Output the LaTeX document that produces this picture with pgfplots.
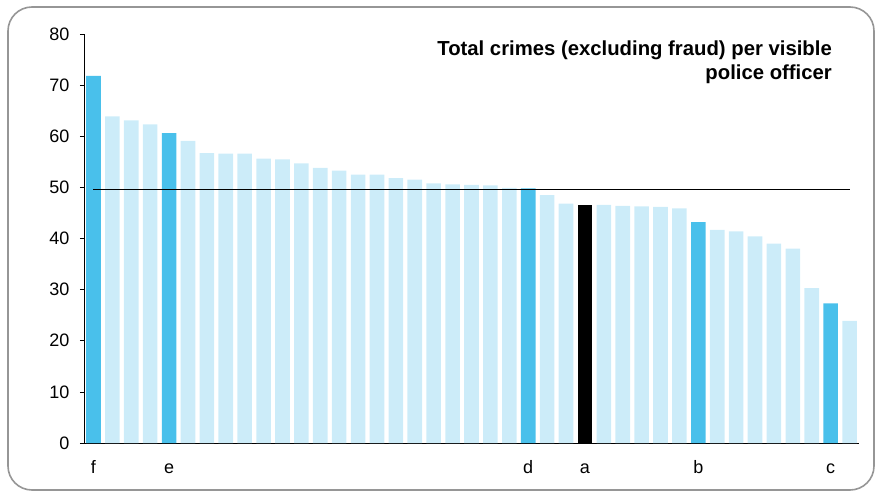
\documentclass[border=0pt]{standalone}
\usepackage{pgfplots}
\pgfplotsset{compat=1.18}
\usepackage{fontspec}
\setmainfont{Liberation Sans}
\definecolor{lightb}{RGB}{204,236,249}
\definecolor{darkb}{RGB}{73,192,235}
\definecolor{framec}{RGB}{150,150,150}
\begin{document}
\begin{tikzpicture}[x=1pt,y=1pt]
\path[use as bounding box] (0,0) rectangle (875,491);
\draw[framec, line width=1.6pt, rounded corners=24pt] (8,1) rectangle (874,484);
\begin{axis}[
  at={(84pt,48pt)}, anchor=south west,
  width=775pt, height=409pt, scale only axis,
  xmin=0.5, xmax=41.5, ymin=0, ymax=80,
  axis x line*=bottom, axis y line*=left,
  axis line style={-, line width=0.8pt},
  ytick={0,10,...,80}, tick align=outside, major tick length=4pt,
  y tick style={line width=0.6pt, black},
  xtick={1,5,24,27,33,40}, xticklabels={f,e,d,a,b,c},
  x tick style={draw=none},
  ybar, bar width=14.6pt, bar shift=0pt,
  tick label style={font=\fontsize{18}{20}\selectfont},
  /pgf/number format/assume math mode=true,
  yticklabel style={xshift=-7pt},
  xticklabel style={text height=13pt, text depth=0pt, yshift=-10pt},
  clip=false,
]
\addplot[fill=lightb, draw=none] coordinates {
(2,63.9) (3,63.1) (4,62.3) (6,59.1) (7,56.7) (8,56.6) (9,56.6) (10,55.6)
(11,55.5) (12,54.7) (13,53.8) (14,53.3) (15,52.5) (16,52.5) (17,51.8)
(18,51.5) (19,50.8) (20,50.6) (21,50.5) (22,50.4) (23,49.9) (25,48.5)
(26,46.8) (28,46.6) (29,46.4) (30,46.3) (31,46.2) (32,45.9) (34,41.7)
(35,41.4) (36,40.4) (37,39.0) (38,38.0) (39,30.3) (41,23.9)};
\addplot[fill=darkb, draw=none] coordinates {
(1,71.8) (5,60.6) (24,49.8) (33,43.2) (40,27.3)};
\addplot[fill=black, draw=none] coordinates {(27,46.6)};
\addplot[sharp plot, black, line width=1.8pt] coordinates {(1,49.6) (41,49.6)};
\end{axis}
\node[anchor=north east, align=right, font=\bfseries\fontsize{20.3}{24}\selectfont, inner sep=0pt] at (832,450) {Total crimes (excluding fraud) per visible\\police officer};
\end{tikzpicture}
\end{document}
